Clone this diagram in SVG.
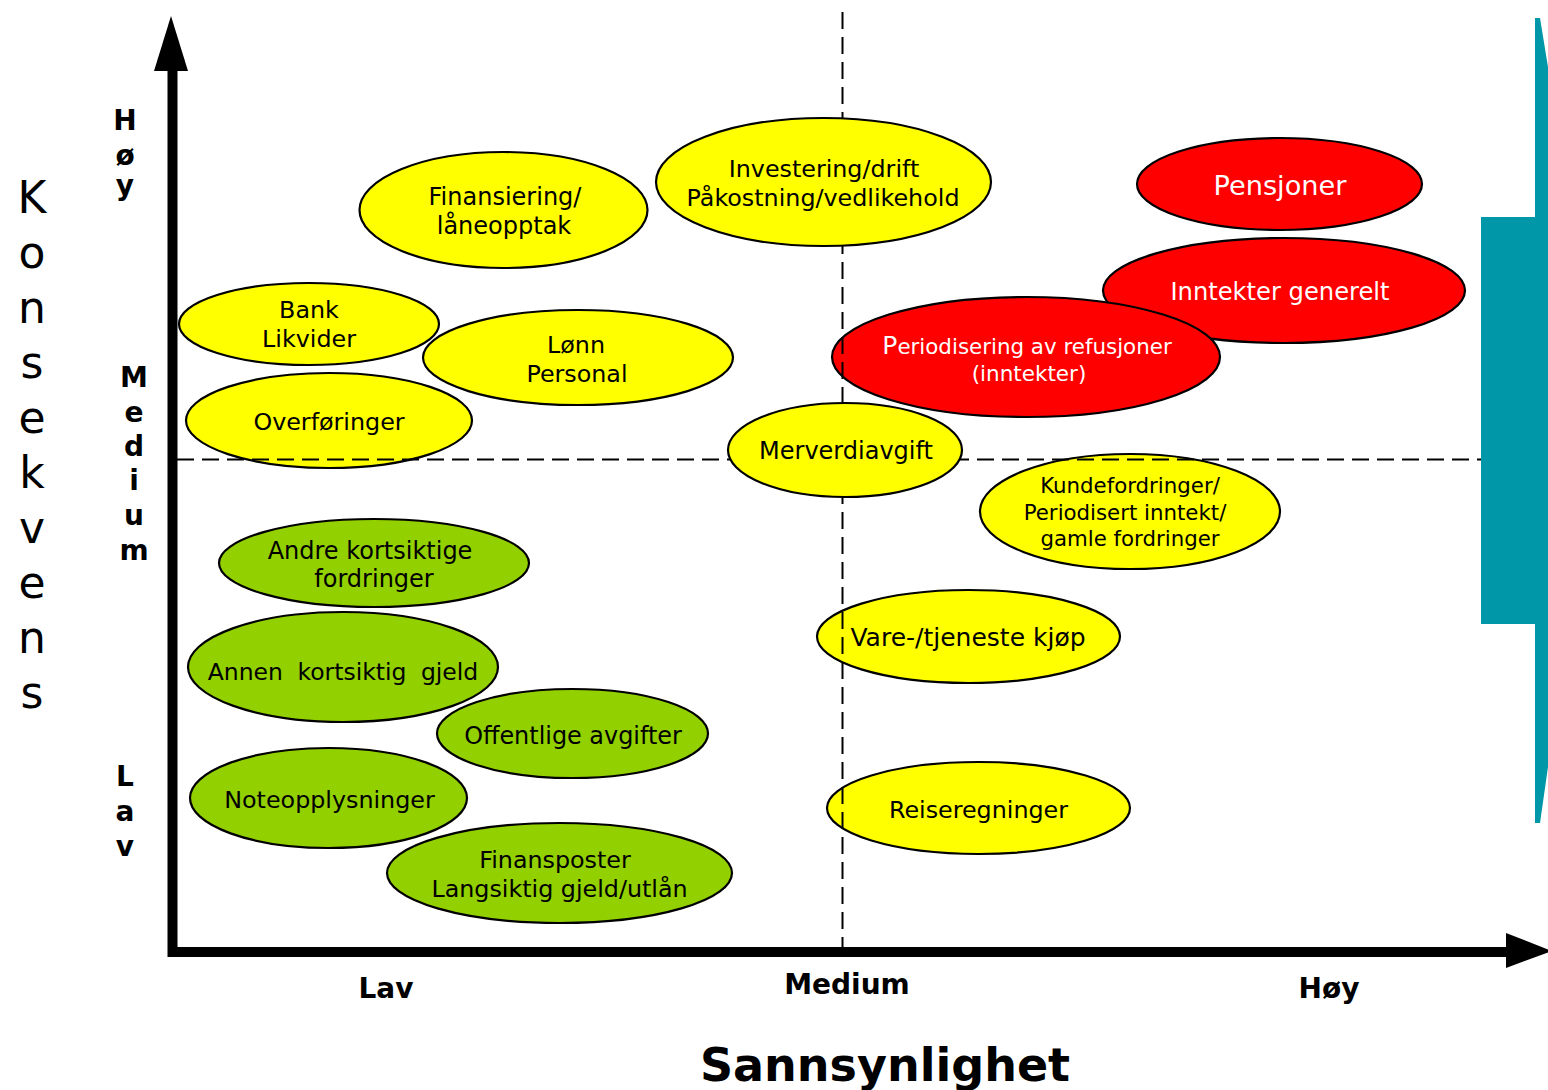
<svg xmlns="http://www.w3.org/2000/svg" width="1548" height="1090" viewBox="0 0 1548 1090">
<style>
text{font-family:"DejaVu Sans","Verdana",sans-serif;text-anchor:middle;fill:#000}
.b{font-weight:bold}
.y{fill:#FFFF00;stroke:#000;stroke-width:2.2}
.g{fill:#92D000;stroke:#000;stroke-width:2.2}
.r{fill:#FF0000;stroke:#000;stroke-width:2.2}
.w{fill:#FFFFFF}
.dash{stroke:#000;stroke-width:2;stroke-dasharray:17 8;fill:none}
</style>
<rect width="1548" height="1090" fill="#FFFFFF"/>
<polygon id="teal" points="1535,18 1540,18 1548,67 1548,767 1540,823 1535,823 1535,624 1481,624 1481,217 1535,217" fill="#0098A8"/>
<g id="axis-labels">
<g font-size="44">
<text x="32" y="213">K</text><text x="32" y="268">o</text><text x="32" y="323">n</text><text x="32" y="378">s</text><text x="32" y="433">e</text><text x="32" y="488">k</text><text x="32" y="543">v</text><text x="32" y="598">e</text><text x="32" y="653">n</text><text x="32" y="708">s</text>
</g>
<g font-size="28">
<text x="125" y="130" class="b">H</text><text x="125" y="165" class="b">ø</text><text x="125" y="195" class="b">y</text>
<text x="134" y="387" class="b">M</text><text x="134" y="422" class="b">e</text><text x="134" y="456" class="b">d</text><text x="134" y="490" class="b">i</text><text x="134" y="525" class="b">u</text><text x="134" y="560" class="b">m</text>
<text x="125" y="786" class="b">L</text><text x="125" y="821" class="b">a</text><text x="125" y="856" class="b">v</text>
<text x="386" y="998" class="b">Lav</text>
<text x="847" y="994" class="b">Medium</text>
<text x="1329" y="998" class="b">Høy</text>
</g>
<text x="885" y="1081" class="b" font-size="46">Sannsynlighet</text>
</g>
<g id="n-bank"><ellipse class="y" cx="309" cy="324" rx="130" ry="41"/><text font-size="23.8" x="309" y="318">Bank</text><text font-size="23.8" x="309" y="347">Likvider</text></g>
<g id="n-lonn"><ellipse class="y" cx="578" cy="357.5" rx="155" ry="47.5"/><text font-size="23.8" x="576" y="353">Lønn</text><text font-size="23.8" x="577" y="382">Personal</text></g>
<g id="n-overforinger"><ellipse class="y" cx="329" cy="420.5" rx="143" ry="47.5"/><text font-size="23.8" x="329" y="430">Overføringer</text></g>
<g id="n-finansiering"><ellipse class="y" cx="503.5" cy="210" rx="144" ry="58"/><text font-size="24" x="505" y="205">Finansiering/</text><text font-size="24" x="504" y="234">låneopptak</text></g>
<g id="n-inntekter"><ellipse class="r" cx="1284" cy="290.5" rx="181" ry="52.5"/><text class="w" font-size="24.2" x="1280" y="300">Inntekter generelt</text></g>
<g id="n-periodisering"><ellipse class="r" cx="1026" cy="357" rx="194" ry="60"/><text class="w" font-size="21.4" x="1027" y="354"><tspan font-size="25">P</tspan>eriodisering av refusjoner</text><text class="w" font-size="21.5" x="1029" y="381">(inntekter)</text></g>
<g id="n-pensjoner"><ellipse class="r" cx="1279.5" cy="184" rx="142.5" ry="46"/><text class="w" font-size="27.2" x="1280" y="195">Pensjoner</text></g>
<g id="n-kunde"><ellipse class="y" cx="1130" cy="511.5" rx="150" ry="57.5"/><text font-size="21.3" x="1130" y="493">Kundefordringer/</text><text font-size="21.3" x="1125" y="520">Periodisert inntekt/</text><text font-size="21.3" x="1130" y="546">gamle fordringer</text></g>
<g id="n-vare"><ellipse class="y" cx="968.5" cy="636.5" rx="151.5" ry="46.5"/><text font-size="25" x="968" y="646">Vare-/tjeneste kjøp</text></g>
<g id="n-reise"><ellipse class="y" cx="978.5" cy="808" rx="151.5" ry="46"/><text font-size="23.8" x="978.5" y="818">Reiseregninger</text></g>
<g id="n-andre"><ellipse class="g" cx="374" cy="563" rx="155" ry="44"/><text font-size="24" x="370" y="559">Andre kortsiktige</text><text font-size="24" x="374" y="587">fordringer</text></g>
<g id="n-annen"><ellipse class="g" cx="343" cy="667" rx="155" ry="55"/><text font-size="23.5" word-spacing="7" x="343" y="680">Annen kortsiktig gjeld</text></g>
<g id="n-offentlige"><ellipse class="g" cx="572.5" cy="733.5" rx="135.5" ry="44.5"/><text font-size="23.9" x="573" y="744">Offentlige avgifter</text></g>
<g id="n-note"><ellipse class="g" cx="328.5" cy="798" rx="138.5" ry="50"/><text font-size="23.8" x="329.5" y="808">Noteopplysninger</text></g>
<g id="n-finansposter"><ellipse class="g" cx="559.5" cy="873" rx="172.5" ry="50"/><text font-size="23.8" x="555" y="868">Finansposter</text><text font-size="23.8" x="559.5" y="897">Langsiktig gjeld/utlån</text></g>
<g id="connectors">
<line class="dash" x1="177" y1="459.5" x2="1481" y2="459.5"/>
<line class="dash" x1="842.5" y1="12" x2="842.5" y2="947"/>
<line x1="172.5" y1="66" x2="172.5" y2="957" stroke="#000" stroke-width="10"/>
<polygon points="171,16 188,71 154,71" fill="#000"/>
<line x1="168" y1="952" x2="1508" y2="952" stroke="#000" stroke-width="10"/>
<polygon points="1506,933 1552,951 1506,968" fill="#000"/>
</g>
<g id="n-investering"><ellipse class="y" cx="823.5" cy="182" rx="167.5" ry="64"/><text font-size="23.8" x="824" y="177">Investering/drift</text><text font-size="23.8" x="823" y="206">Påkostning/vedlikehold</text></g>
<g id="n-merverdiavgift"><ellipse class="y" cx="845" cy="450" rx="117" ry="47"/><text font-size="24" x="846" y="459">Merverdiavgift</text></g>
</svg>
